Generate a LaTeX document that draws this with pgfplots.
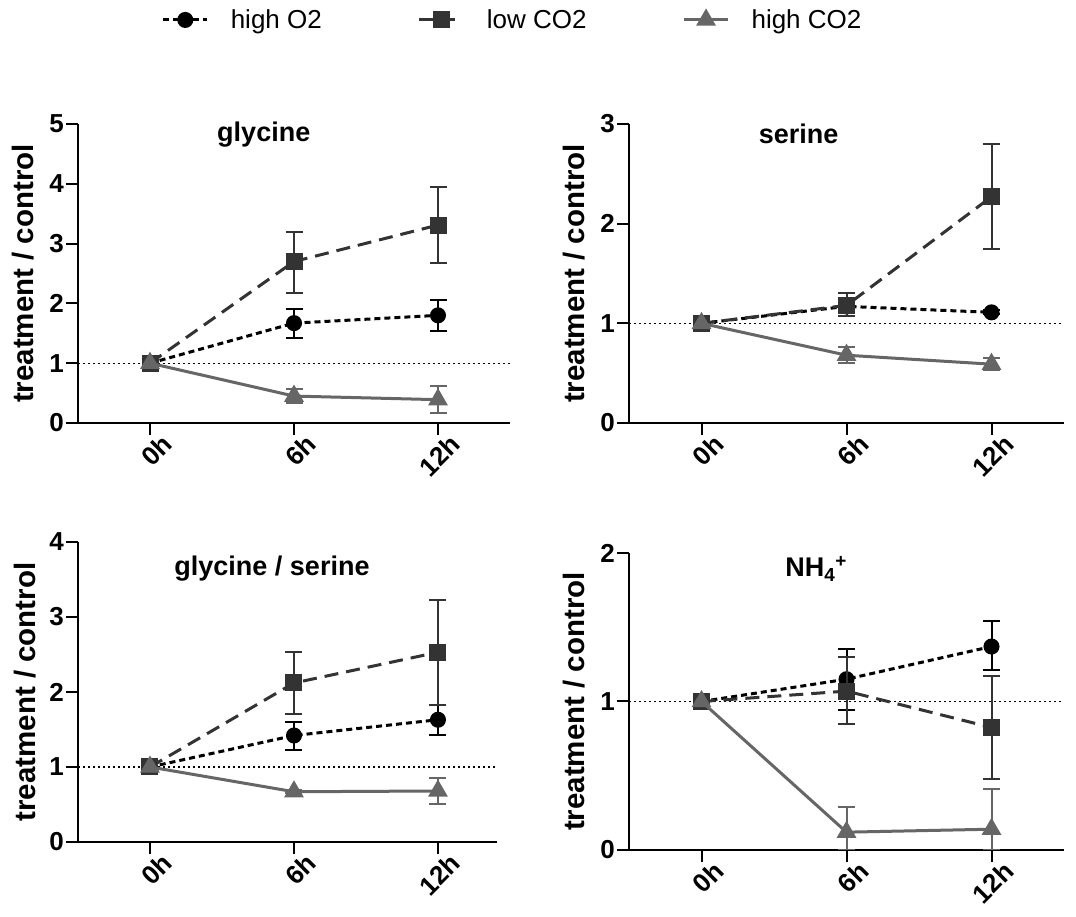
\documentclass[border=0pt]{standalone}
\usepackage{fontspec}
\setmainfont{Liberation Sans}
\usepackage{pgfplots}
\pgfplotsset{compat=1.18}
\definecolor{cO}{HTML}{000000}
\definecolor{cL}{HTML}{333333}
\definecolor{cH}{HTML}{666666}
\pgfplotsset{
 panel/.style={
  scale only axis,
  axis lines*=left,
  axis line style={line width=2pt},
  xmin=-0.5, xmax=2.5, xtick={0,1,2}, xticklabels={0h,6h,12h},
  ymin=0,
  tick align=outside, major tick length=12pt,
  every tick/.style={line width=2pt, black},
  ticklabel style={font=\fontsize{26}{30}\selectfont\bfseries},
  yticklabel style={inner sep=2pt},
  xticklabel style={rotate=45, anchor=north east, inner sep=1pt, xshift=10pt, yshift=-5pt},
  /pgf/number format/assume math mode=true,
  ylabel={treatment / control},
  ylabel style={font=\fontsize{29.5}{32}\selectfont\bfseries, at={(axis description cs:-0.127,0.5)}, anchor=center},
  title style={font=\fontsize{27}{30}\selectfont\bfseries, anchor=center},
  clip mode=individual,
  legend image code/.code={\draw[mark repeat=2,mark phase=2,#1] plot coordinates {(0pt,0pt)(22pt,0pt)(44pt,0pt)};},
 },
 sO/.style={cO, line width=3pt, dash pattern=on 6pt off 4pt, mark=*, mark size=6.5pt, mark options={solid, fill=cO}},
 sL/.style={cL, line width=3pt, dash pattern=on 14pt off 8pt, mark=square*, mark size=7pt, mark options={solid, fill=cL}},
 sH/.style={cH, line width=3pt, solid, mark=triangle*, mark size=8.5pt, mark options={solid, fill=cH}},
 eb/.style={forget plot, only marks, mark=none, error bars/.cd, y dir=both, y explicit,
   error bar style={line width=2pt, solid, draw=#1},
   error mark options={rotate=90, line width=2pt, mark size=8.5pt, draw=#1}, /pgfplots/.cd},
 refl/.style={black, line width=1.2pt, dash pattern=on 1.5pt off 3.5pt, forget plot},
}
\begin{document}
\begin{tikzpicture}
\path[use as bounding box] (0,0) rectangle (1076pt,917pt);
% ---------------- glycine
\begin{axis}[panel, at={(78pt,494pt)}, anchor=south west, width=432pt, height=299pt,
  ymax=5, ytick={0,1,2,3,4,5},
  title={glycine}, title style={at={(axis description cs:0.43,0.946)}},
  legend columns=3,
  legend style={at={(axis description cs:1.006,1.348)}, anchor=center, draw=none, fill=none,
    font=\fontsize{26}{28}\selectfont,
    /tikz/every odd column/.append style={column sep=20pt},
    /tikz/every even column/.append style={column sep=94pt}}]
\addplot[refl] coordinates {(-0.5,1) (2.5,1)};
\addplot[eb=cO] table[x=x,y=y,y error plus=ep,y error minus=em] {
x y ep em
1 1.67 0.24 0.25
2 1.80 0.25 0.26
};
\addplot[sO] table[x=x,y=y] {
x y
0 1
1 1.67
2 1.80
};
\addlegendentry{high O2}
\addplot[eb=cL] table[x=x,y=y,y error plus=ep,y error minus=em] {
x y ep em
1 2.70 0.50 0.52
2 3.31 0.64 0.64
};
\addplot[sL] table[x=x,y=y] {
x y
0 1
1 2.70
2 3.31
};
\addlegendentry{low CO2}
\addplot[eb=cH] table[x=x,y=y,y error plus=ep,y error minus=em] {
x y ep em
1 0.45 0.12 0.12
2 0.39 0.23 0.22
};
\addplot[sH] table[x=x,y=y] {
x y
0 1
1 0.45
2 0.39
};
\addlegendentry{high CO2}
\end{axis}
% ---------------- serine
\begin{axis}[panel, at={(629pt,494pt)}, anchor=south west, width=435pt, height=299pt,
  ymax=3, ytick={0,1,2,3},
  title={serine}, title style={at={(axis description cs:0.39,0.946)}}]
\addplot[refl] coordinates {(-0.5,1) (2.5,1)};
\addplot[eb=cO] table[x=x,y=y,y error plus=ep,y error minus=em] {
x y ep em
1 1.17 0.03 0.03
2 1.11 0.02 0.02
};
\addplot[sO] table[x=x,y=y] {
x y
0 1
1 1.17
2 1.11
};
\addplot[eb=cL] table[x=x,y=y,y error plus=ep,y error minus=em] {
x y ep em
1 1.18 0.12 0.11
2 2.27 0.53 0.52
};
\addplot[sL] table[x=x,y=y] {
x y
0 1
1 1.18
2 2.27
};
\addplot[eb=cH] table[x=x,y=y,y error plus=ep,y error minus=em] {
x y ep em
1 0.68 0.08 0.08
2 0.59 0.06 0.06
};
\addplot[sH] table[x=x,y=y] {
x y
0 1
1 0.68
2 0.59
};
\end{axis}
% ---------------- glycine / serine
\begin{axis}[panel, at={(78pt,75pt)}, anchor=south west, width=419pt, height=300pt,
  xmax=2.41, ymax=4, ytick={0,1,2,3,4},
  title={glycine / serine}, title style={at={(axis description cs:0.463,0.89)}}]
\addplot[refl] coordinates {(-0.5,1) (2.41,1)};
\addplot[eb=cO] table[x=x,y=y,y error plus=ep,y error minus=em] {
x y ep em
1 1.42 0.18 0.20
2 1.63 0.20 0.21
};
\addplot[sO] table[x=x,y=y] {
x y
0 1
1 1.42
2 1.63
};
\addplot[eb=cL] table[x=x,y=y,y error plus=ep,y error minus=em] {
x y ep em
1 2.12 0.41 0.41
2 2.53 0.69 0.70
};
\addplot[sL] table[x=x,y=y] {
x y
0 1
1 2.12
2 2.53
};
\addplot[eb=cH] table[x=x,y=y,y error plus=ep,y error minus=em] {
x y ep em
1 0.67 0.02 0.02
2 0.68 0.17 0.17
};
\addplot[sH] table[x=x,y=y] {
x y
0 1
1 0.67
2 0.68
};
\end{axis}
% ---------------- NH4+
\begin{axis}[panel, at={(629pt,67pt)}, anchor=south west, width=435pt, height=297pt,
  ymax=2, ytick={0,1,2},
  title={NH\textsubscript{4}\textsuperscript{+}}, title style={at={(axis description cs:0.43,0.926)}}]
\addplot[refl] coordinates {(-0.5,1) (2.5,1)};
\addplot[eb=cO] table[x=x,y=y,y error plus=ep,y error minus=em] {
x y ep em
1 1.15 0.205 0.21
2 1.37 0.17 0.16
};
\addplot[sO] table[x=x,y=y] {
x y
0 1
1 1.15
2 1.37
};
\addplot[eb=cL] table[x=x,y=y,y error plus=ep,y error minus=em] {
x y ep em
1 1.07 0.23 0.22
2 0.825 0.345 0.345
};
\addplot[sL] table[x=x,y=y] {
x y
0 1
1 1.07
2 0.825
};
\addplot[eb=cH] table[x=x,y=y,y error plus=ep,y error minus=em] {
x y ep em
1 0.12 0.17 0.12
2 0.14 0.27 0.14
};
\addplot[sH] table[x=x,y=y] {
x y
0 1
1 0.12
2 0.14
};
\end{axis}
\end{tikzpicture}
\end{document}
